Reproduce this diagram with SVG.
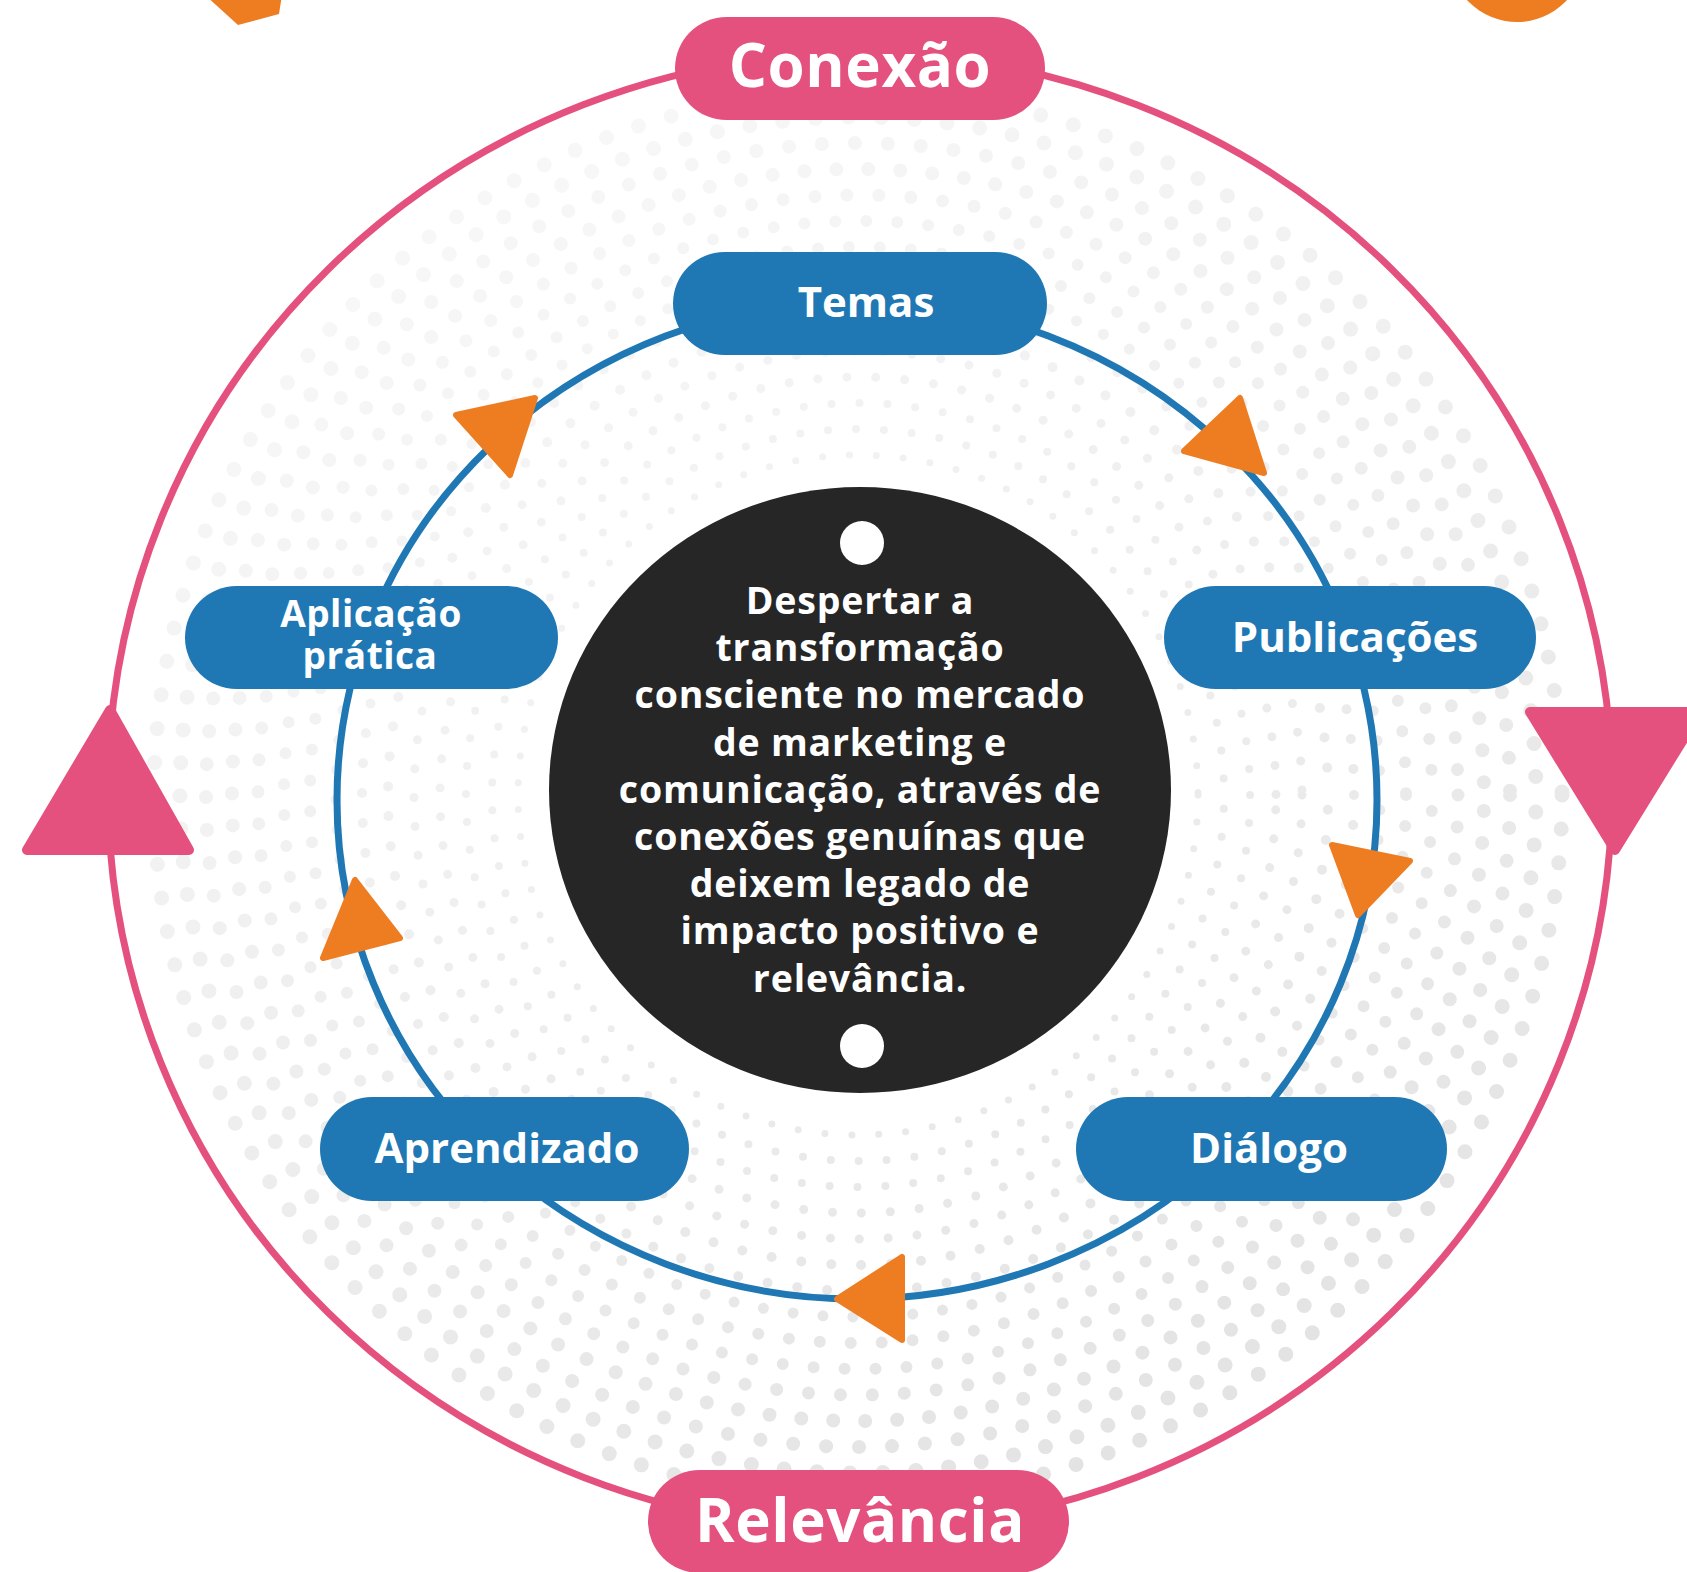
<svg xmlns="http://www.w3.org/2000/svg" width="1687" height="1572" viewBox="0 0 1687 1572">
<defs>
<style>
.pill-b{fill:#1f78b4}
.pill-p{fill:#e5517e}
.lbl{font-family:"Open Sans","Liberation Sans",sans-serif;font-weight:700;fill:#ffffff;text-anchor:middle}
.big{font-size:60px;letter-spacing:0.6px}
.mid{font-size:42px}
.sm2{font-size:37px;letter-spacing:0.5px}
.ctr{font-family:"Open Sans","Liberation Sans",sans-serif;font-weight:700;fill:#ffffff;text-anchor:middle;font-size:37.5px;letter-spacing:0.8px}
.ring{fill:none;stroke:#e0e0e0;stroke-linecap:round}
.arr{fill:#ee7d22;stroke:#ee7d22;stroke-width:6;stroke-linejoin:round}
.parr{fill:#e5517e;stroke:#e5517e;stroke-width:10;stroke-linejoin:round}
</style>
<linearGradient id="fadeg" x1="0.2" y1="0" x2="0.8" y2="1">
<stop offset="0" stop-color="#fff" stop-opacity="0.15"/>
<stop offset="0.5" stop-color="#fff" stop-opacity="0.55"/>
<stop offset="1" stop-color="#fff" stop-opacity="1"/>
</linearGradient>
<mask id="fade"><rect width="1687" height="1572" fill="url(#fadeg)"/></mask>
</defs>
<rect width="1687" height="1572" fill="#ffffff"/>
<g id="dots" mask="url(#fade)">
<circle class="ring" cx="858" cy="795" r="340" stroke-width="7" stroke-dasharray="0 27"/>
<circle class="ring" cx="858" cy="795" r="366" stroke-width="8" stroke-dasharray="0 28" stroke-dashoffset="14"/>
<circle class="ring" cx="858" cy="795" r="392" stroke-width="8" stroke-dasharray="0 28"/>
<circle class="ring" cx="858" cy="795" r="418" stroke-width="9" stroke-dasharray="0 29" stroke-dashoffset="14"/>
<circle class="ring" cx="858" cy="795" r="444" stroke-width="9" stroke-dasharray="0 29"/>
<circle class="ring" cx="858" cy="795" r="470" stroke-width="10" stroke-dasharray="0 30" stroke-dashoffset="15"/>
<circle class="ring" cx="858" cy="795" r="496" stroke-width="10" stroke-dasharray="0 30"/>
<circle class="ring" cx="858" cy="795" r="522" stroke-width="11" stroke-dasharray="0 30" stroke-dashoffset="15"/>
<circle class="ring" cx="858" cy="795" r="548" stroke-width="12" stroke-dasharray="0 31"/>
<circle class="ring" cx="858" cy="795" r="574" stroke-width="12" stroke-dasharray="0 31" stroke-dashoffset="15"/>
<circle class="ring" cx="858" cy="795" r="600" stroke-width="13" stroke-dasharray="0 32"/>
<circle class="ring" cx="858" cy="795" r="626" stroke-width="14" stroke-dasharray="0 32" stroke-dashoffset="16"/>
<circle class="ring" cx="858" cy="795" r="652" stroke-width="14" stroke-dasharray="0 33"/>
<circle class="ring" cx="858" cy="795" r="678" stroke-width="15" stroke-dasharray="0 33" stroke-dashoffset="16"/>
<circle class="ring" cx="858" cy="795" r="704" stroke-width="15" stroke-dasharray="0 34"/>
</g>
<g id="corner-shapes">
<polygon points="205,-5 282,-5 279,14 238,25" fill="#ee7d22"/>
<circle cx="1517" cy="-46" r="68" fill="#ee7d22"/>
</g>
<g id="connectors">
<ellipse cx="860" cy="791" rx="752" ry="738" fill="none" stroke="#e5517e" stroke-width="7"/>
<ellipse cx="857" cy="800" rx="520" ry="499" fill="none" stroke="#1f78b4" stroke-width="7"/>
<polygon class="parr" points="110,710 27,850 189,850"/>
<polygon class="parr" points="1530,712 1700,712 1615,850"/>
<polygon class="arr" points="535,398 456,415 510,475"/>
<polygon class="arr" points="1264,473 1184,451 1240,398"/>
<polygon class="arr" points="1358,915 1332,845 1410,861"/>
<polygon class="arr" points="837,1299 902,1257 902,1340"/>
<polygon class="arr" points="355,880 323,958 400,938"/>
</g>
<g id="center">
<ellipse cx="860" cy="790" rx="311" ry="303" fill="#262626"/>
<circle cx="862" cy="543" r="22" fill="#ffffff"/>
<circle cx="862" cy="1046" r="22" fill="#ffffff"/>
<text class="ctr" x="860" y="614">Despertar a</text>
<text class="ctr" x="860" y="661">transformação</text>
<text class="ctr" x="860" y="708">consciente no mercado</text>
<text class="ctr" x="860" y="756">de marketing e</text>
<text class="ctr" x="860" y="803">comunicação, através de</text>
<text class="ctr" x="860" y="850">conexões genuínas que</text>
<text class="ctr" x="860" y="897">deixem legado de</text>
<text class="ctr" x="860" y="944">impacto positivo e</text>
<text class="ctr" x="860" y="992">relevância.</text>
</g>
<g id="node-conexao">
<rect class="pill-p" x="675" y="17" width="370" height="103" rx="51.5"/>
<text class="lbl big" x="860" y="87">Conexão</text>
</g>
<g id="node-relevancia">
<rect class="pill-p" x="648" y="1470" width="421" height="103" rx="51.5"/>
<text class="lbl big" x="860" y="1542">Relevância</text>
</g>
<g id="node-temas">
<rect class="pill-b" x="673" y="252" width="374" height="103" rx="51.5"/>
<text class="lbl mid" x="866" y="317">Temas</text>
</g>
<g id="node-publicacoes">
<rect class="pill-b" x="1164" y="586" width="372" height="103" rx="51.5"/>
<text class="lbl mid" x="1355" y="652">Publicações</text>
</g>
<g id="node-dialogo">
<rect class="pill-b" x="1076" y="1097" width="371" height="104" rx="52"/>
<text class="lbl mid" x="1269" y="1163">Diálogo</text>
</g>
<g id="node-aprendizado">
<rect class="pill-b" x="320" y="1097" width="369" height="104" rx="52"/>
<text class="lbl mid" x="507" y="1163">Aprendizado</text>
</g>
<g id="node-aplicacao">
<rect class="pill-b" x="185" y="586" width="373" height="103" rx="51.5"/>
<text class="lbl sm2"><tspan x="371" y="627">Aplicação</tspan><tspan x="370" y="669">prática</tspan></text>
</g>
</svg>
